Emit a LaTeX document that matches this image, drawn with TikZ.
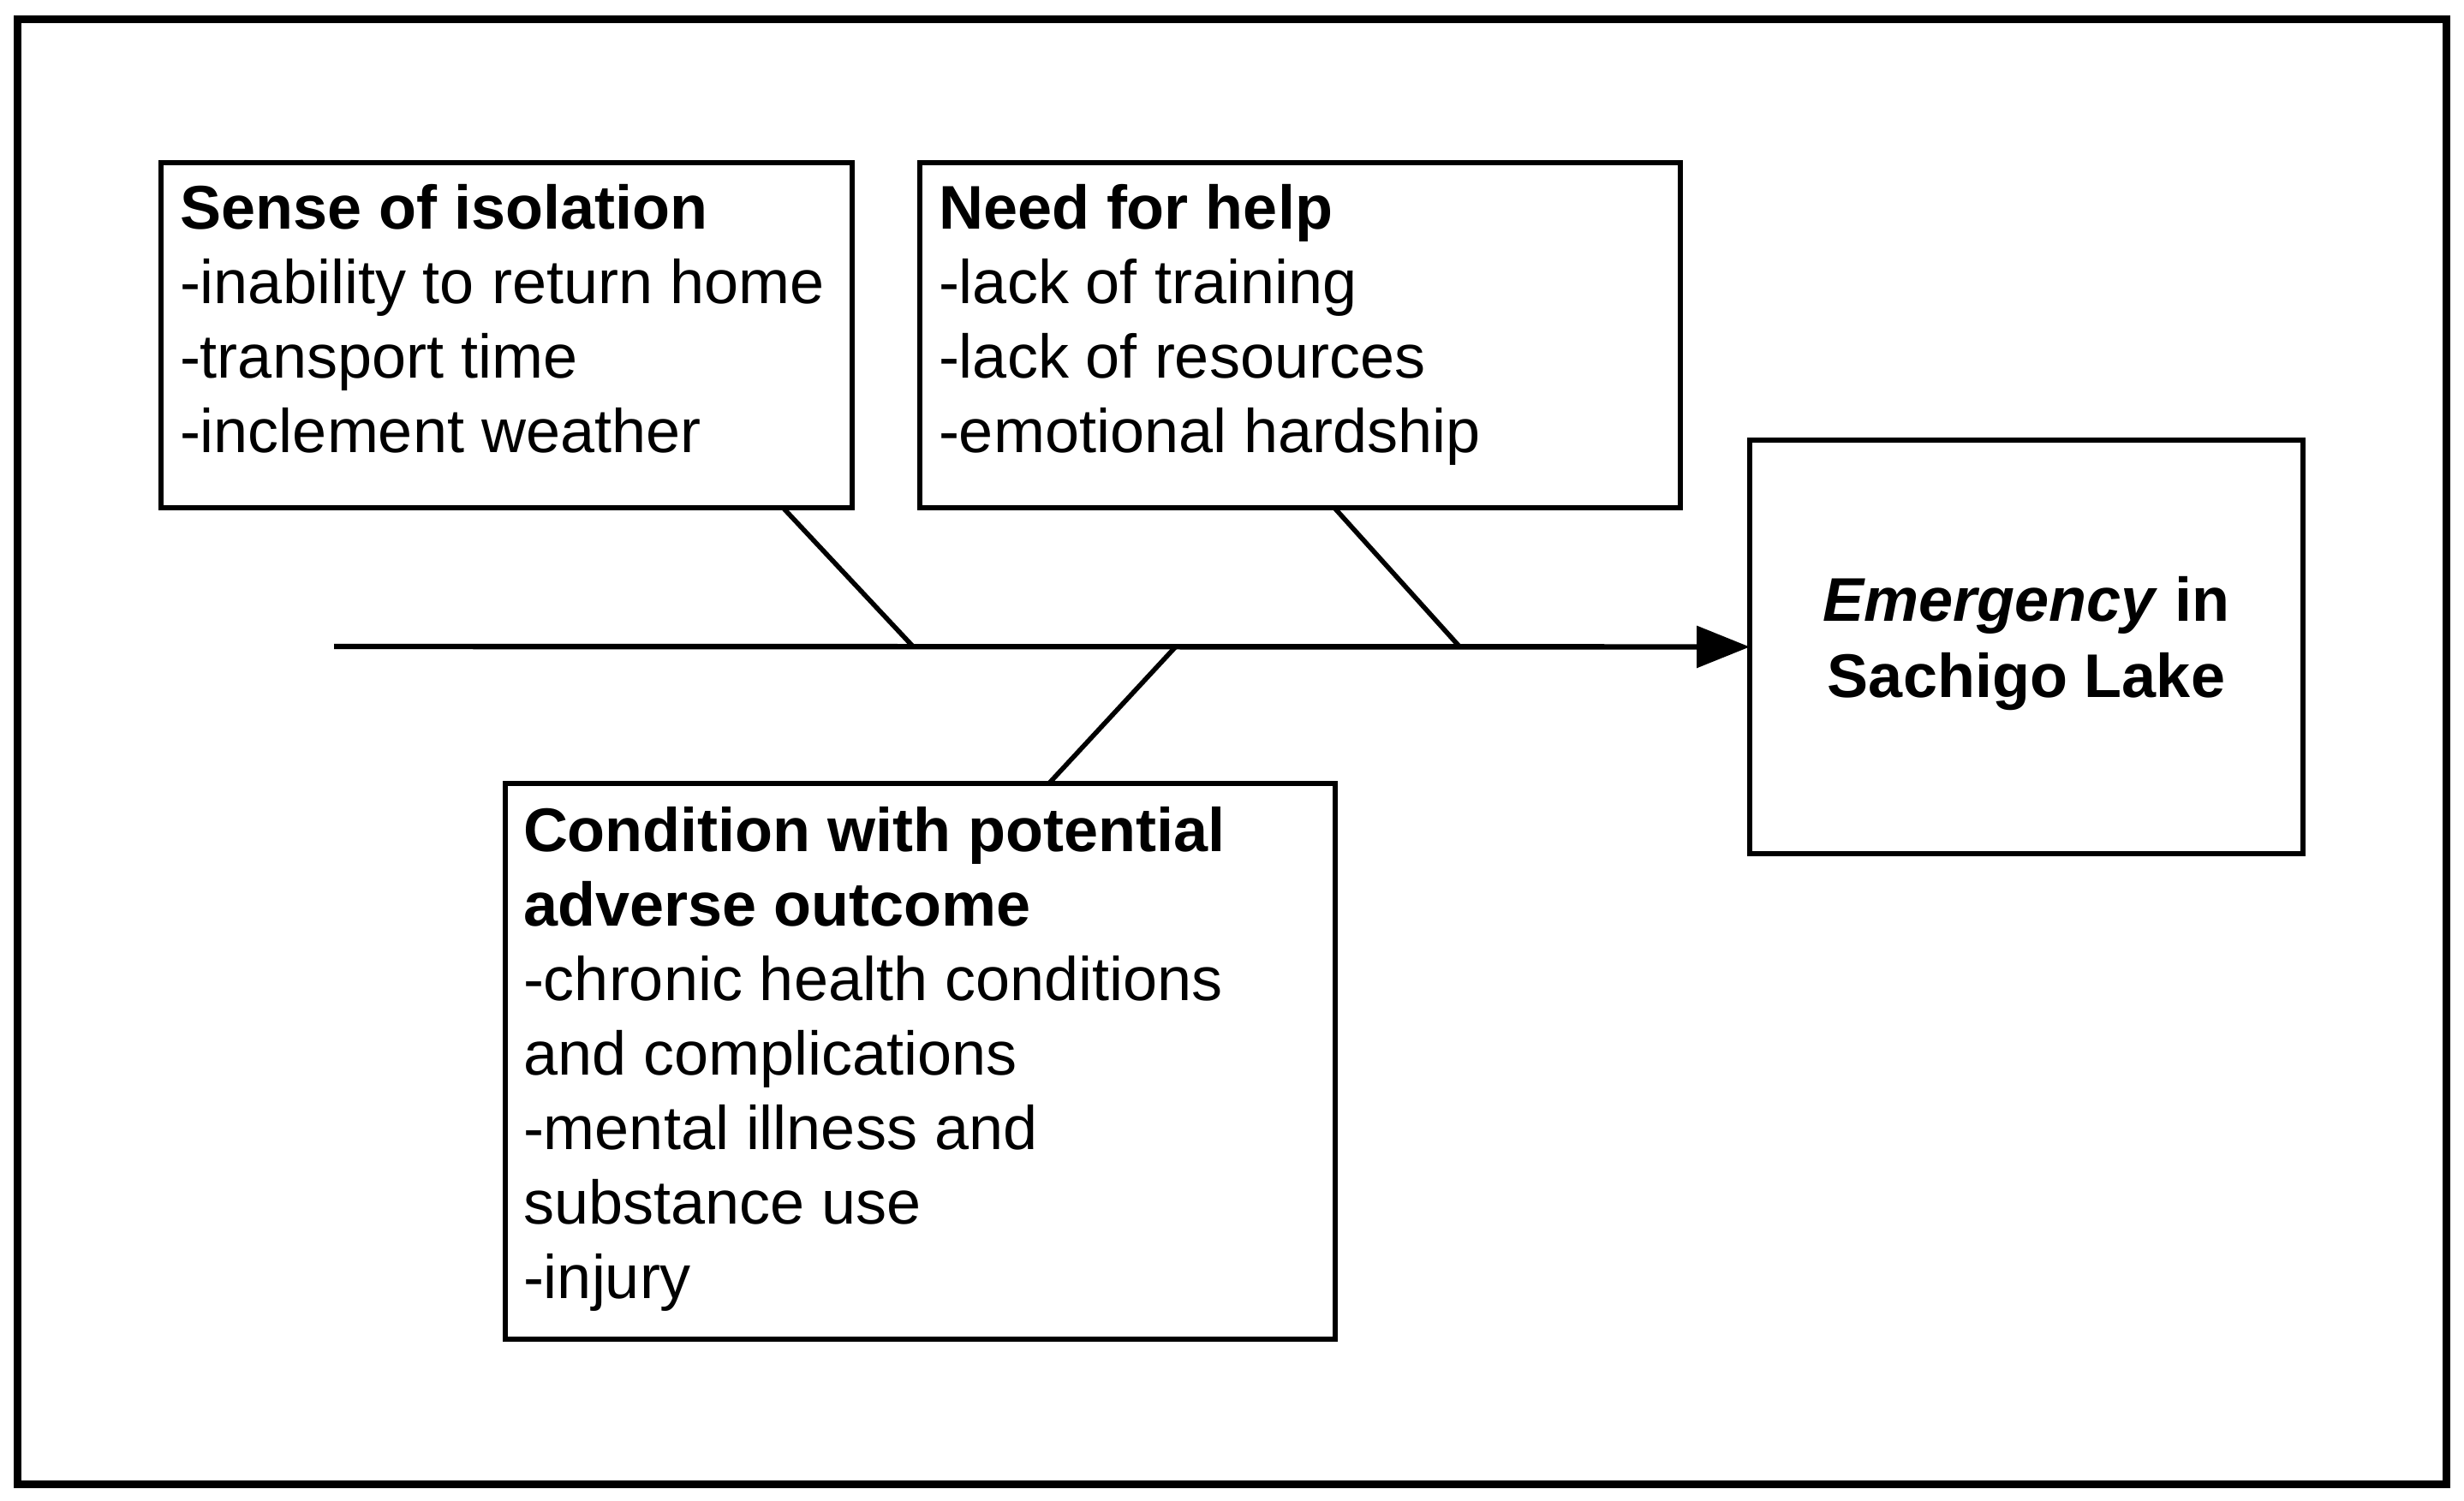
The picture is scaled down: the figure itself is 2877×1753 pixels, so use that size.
\documentclass[tikz,border=0pt]{standalone}
\usepackage{fontspec}
\setmainfont{Liberation Sans}
\usetikzlibrary{arrows.meta,calc}
\begin{document}
\begin{tikzpicture}[x=0.25pt,y=-0.25pt,
  box/.style={draw,line width=1.6pt,outer sep=0pt,inner sep=0pt,anchor=north west,fill=none},
  txt/.style={inner sep=0pt,outer sep=0pt,align=left,anchor=base west,font=\fontsize{18pt}{21.75pt}\selectfont},
  ctxt/.style={inner sep=0pt,outer sep=0pt,align=center,anchor=base,font=\fontsize{18pt}{22pt}\selectfont\bfseries},
  bone/.style={line width=1.4pt},
  spine/.style={line width=1.6pt,-{Triangle[length=15.5pt,width=12pt]}},
  frame/.style={line width=2.25pt}]
\useasboundingbox (0,0) rectangle (2877,1753);
\draw[frame] (20,23) rectangle (2856,1733);
% boxes
\node[box,minimum width=201.75pt,minimum height=100.75pt] (iso) at (188,190) {};
\node[box,minimum width=222pt,minimum height=100.75pt] (help) at (1074,190) {};
\node[box,minimum width=161.5pt,minimum height=120.75pt] (emer) at (2043,514) {};
\node[box,minimum width=242.25pt,minimum height=162.25pt] (cond) at (590,915) {};
% texts (anchored at the baseline of their last line)
\node[txt] (isot) at (210,529) {\textbf{Sense of isolation}\\-inability to return home\\-transport time\\-inclement weather};
\node[txt] (helpt) at (1096,529) {\textbf{Need for help}\\-lack of training\\-lack of resources\\-emotional hardship};
\node[txt] (condt) at (611,1516) {\textbf{Condition with potential}\\\textbf{adverse outcome}\\-chronic health conditions\\and complications\\-mental illness and\\substance use\\-injury};
\node[ctxt] (emert) at (2366,814) {\textit{Emergency} in\\Sachigo Lake};
% spine
\coordinate (tail) at (390,755);
\coordinate (j1) at (1066,755);
\coordinate (j2) at (1704,755);
\coordinate (j3) at (1373,755);
\draw[spine] (tail) -- (emer.west);
% bones
\draw[bone] ($(iso.south west)!0.9!(iso.south east)$) -- (j1);
\draw[bone] ($(help.south west)!0.545!(help.south east)$) -- (j2);
\draw[bone] ($(cond.north west)!0.655!(cond.north east)$) -- (j3);
\end{tikzpicture}
\end{document}
